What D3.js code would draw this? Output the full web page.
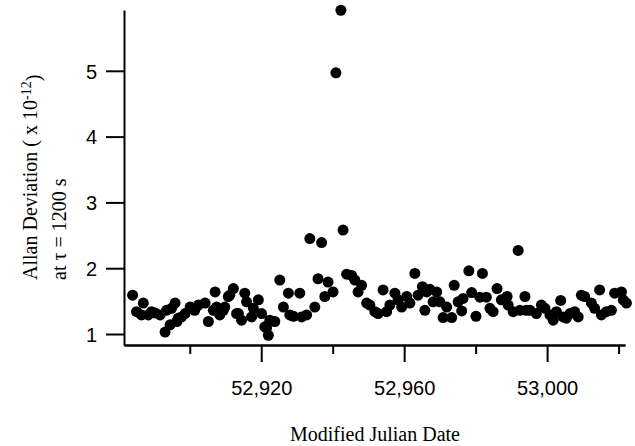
<!DOCTYPE html>
<html>
<head>
<meta charset="utf-8">
<script src="https://cdn.jsdelivr.net/npm/d3@7"></script>
<style>
  body { margin: 0; background: #fff; }
  .axis path, .axis line { stroke: #000; stroke-width: 2; }
  .axis text { font-family: "Liberation Sans", Arial, sans-serif; font-size: 20px; fill: #000; }
  .title { font-family: "Liberation Serif", "Times New Roman", serif; font-size: 20px; fill: #000; }
</style>
</head>
<body>
<svg></svg>
<script>
// Modified Julian Date of each measurement
var mjd = [52884.0, 52885.1, 52886.5, 52887.0, 52888.4, 52889.3, 52890.3, 52891.7, 52893.1, 52893.5,
  52894.5, 52894.9, 52895.9, 52896.4, 52896.8, 52897.7, 52898.7, 52900.1, 52901.4, 52902.4,
  52904.3, 52905.2, 52906.6, 52907.1, 52907.5, 52908.4, 52909.4, 52909.8, 52910.8, 52911.2,
  52912.2, 52913.1, 52913.6, 52914.5, 52915.4, 52915.9, 52917.3, 52917.8, 52919.2, 52920.1,
  52921.0, 52921.5, 52922.0, 52922.4, 52923.8, 52925.2, 52926.2, 52927.6, 52928.0, 52929.0,
  52930.8, 52931.3, 52932.7, 52933.6, 52935.0, 52935.9, 52936.9, 52937.8, 52938.7, 52940.1,
  52940.9, 52942.3, 52942.9, 52943.9, 52945.3, 52946.2, 52947.1, 52948.1, 52949.5, 52950.4,
  52951.8, 52952.7, 52954.1, 52955.1, 52956.0, 52957.4, 52958.3, 52959.3, 52960.7, 52961.6,
  52963.0, 52963.9, 52965.1, 52965.8, 52966.3, 52967.2, 52968.1, 52969.1, 52970.0, 52970.9,
  52971.9, 52973.3, 52974.0, 52975.1, 52976.1, 52976.5, 52978.1, 52978.9, 52980.1, 52981.2,
  52981.9, 52983.0, 52984.0, 52984.9, 52986.0, 52987.2, 52988.8, 52989.1, 52990.5, 52991.9,
  52992.4, 52993.8, 52994.2, 52995.2, 52997.0, 52998.4, 52999.4, 53000.8, 53001.7, 53002.6,
  53003.8, 53004.5, 53005.4, 53006.4, 53007.7, 53008.7, 53009.6, 53010.5, 53012.4, 53013.3,
  53014.7, 53015.2, 53016.6, 53018.0, 53018.9, 53020.8, 53021.3, 53022.2];

// Allan deviation (x 1e-12) at tau = 1200 s
var adev = [1.59, 1.34, 1.29, 1.47, 1.29, 1.34, 1.32, 1.29, 1.03, 1.36,
  1.14, 1.39, 1.47, 1.19, 1.24, 1.26, 1.31, 1.41, 1.36, 1.44,
  1.47, 1.19, 1.36, 1.64, 1.41, 1.29, 1.36, 1.41, 1.57, 1.59,
  1.69, 1.31, 1.31, 1.21, 1.62, 1.49, 1.26, 1.39, 1.52, 1.31,
  1.11, 1.09, 0.98, 1.21, 1.19, 1.82, 1.41, 1.62, 1.29, 1.27,
  1.62, 1.26, 1.29, 2.45, 1.41, 1.84, 2.39, 1.57, 1.79, 1.64,
  4.97, 5.92, 2.58, 1.91, 1.89, 1.82, 1.64, 1.74, 1.47, 1.44,
  1.34, 1.31, 1.67, 1.34, 1.44, 1.62, 1.52, 1.41, 1.57, 1.47,
  1.92, 1.59, 1.72, 1.36, 1.64, 1.68, 1.49, 1.64, 1.49, 1.25,
  1.41, 1.25, 1.74, 1.49, 1.35, 1.54, 1.96, 1.63, 1.27, 1.56,
  1.92, 1.56, 1.39, 1.34, 1.69, 1.52, 1.57, 1.44, 1.34, 2.27,
  1.36, 1.57, 1.36, 1.36, 1.31, 1.44, 1.39, 1.29, 1.21, 1.34,
  1.51, 1.26, 1.24, 1.31, 1.34, 1.26, 1.59, 1.57, 1.47, 1.39,
  1.67, 1.29, 1.34, 1.36, 1.62, 1.64, 1.52, 1.47];

var yTicks = [1, 2, 3, 4, 5];
var xMajor = [52920, 52960, 53000];
var xMinor = [52900, 52940, 52980, 53020];

var width = 635, height = 446;
var svg = d3.select("svg").attr("width", width).attr("height", height);

var x = d3.scaleLinear().domain([52881.6, 53021.8]).range([124, 625]);
var y = d3.scaleLinear().domain([0.833, 5.924]).range([345, 10]);

var data = mjd.map((d, i) => ({ d: d, v: adev[i] }));

svg.append("g")
  .attr("class", "axis")
  .attr("transform", "translate(124,0)")
  .call(d3.axisLeft(y).tickValues(yTicks).tickFormat(d3.format("d"))
    .tickSize(18).tickSizeOuter(0).tickPadding(9))
  .call(g => g.selectAll("text").attr("dy", "0.36em"));

svg.append("g")
  .attr("class", "axis")
  .attr("transform", "translate(0,345)")
  .call(d3.axisBottom(x).tickValues(xMinor).tickFormat("").tickSize(9).tickSizeOuter(0));

svg.append("g")
  .attr("class", "axis")
  .attr("transform", "translate(0,345)")
  .call(d3.axisBottom(x).tickValues(xMajor).tickFormat(d3.format(","))
    .tickSize(17).tickSizeOuter(0).tickPadding(19));

svg.append("g")
  .selectAll("circle")
  .data(data)
  .enter()
  .append("circle")
  .attr("cx", d => x(d.d))
  .attr("cy", d => y(d.v))
  .attr("r", 5.5)
  .attr("fill", "#000");

// y axis title, two lines, start-anchored
var t1 = svg.append("text")
  .attr("class", "title")
  .attr("transform", "translate(37,280) rotate(-90)");
t1.append("tspan").text("Allan Deviation ( x 10");
t1.append("tspan").attr("dy", "-0.45em").style("font-size", "14px").text("-12");
t1.append("tspan").attr("dy", "0.45em").text(")");

svg.append("text")
  .attr("class", "title")
  .attr("transform", "translate(66,280) rotate(-90)")
  .text("at \u03c4 = 1200 s");

svg.append("text")
  .attr("class", "title")
  .attr("x", 375)
  .attr("y", 441)
  .attr("text-anchor", "middle")
  .text("Modified Julian Date");
</script>
</body>
</html>
